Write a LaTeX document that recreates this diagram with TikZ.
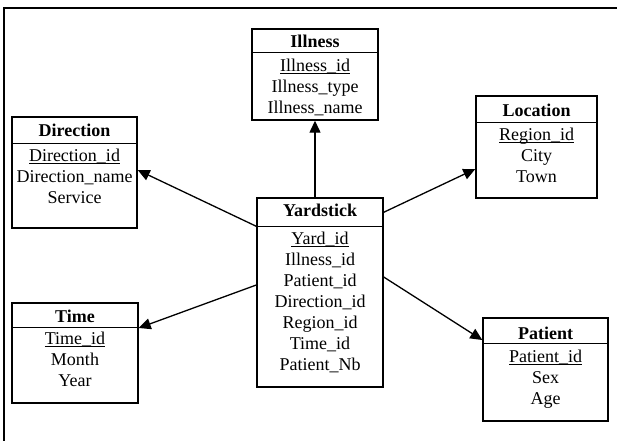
\documentclass[tikz,border=0pt]{standalone}
\usepackage{fontspec}
\setmainfont{Liberation Serif}
\usetikzlibrary{arrows.meta}
\newcommand{\keyul}[1]{\setbox0\hbox{#1}\rlap{\rule[-2.6pt]{\wd0}{0.9pt}}\box0}
\begin{document}
\begin{tikzpicture}[x=1pt,y=-1pt,
  tbl/.style={draw, line width=1.4pt, rectangle, inner sep=0pt},
  divider/.style={line width=1.4pt},
  ttl/.style={font=\fontsize{18}{21}\selectfont\bfseries, inner sep=0pt},
  attrs/.style={font=\fontsize{18}{21}\selectfont, align=center, anchor=north, inner sep=0pt},
  rel/.style={line width=1.3pt, -{Triangle[length=12pt,width=11pt]}}]
\useasboundingbox (0,0) rectangle (618,441);
\coordinate (fb) at (4,441);
\coordinate (fc) at (4,8);
\coordinate (fr) at (617,8);
\draw[line width=1.3pt] (fb) -- (fc) -- (fr);

% Illness
\node[tbl, minimum width=126pt, minimum height=91pt] (ill) at (315,74.5) {};
\draw[divider] ([yshift=-24pt]ill.north west) -- ([yshift=-24pt]ill.north east);
\node[ttl] (illt) at (315,41) {Illness};
\node[attrs] (illa) at (315,59) {\keyul{Illness\_id}\\Illness\_type\\Illness\_name};

% Direction
\node[tbl, minimum width=125pt, minimum height=111pt] (dir) at (74.5,172.5) {};
\draw[divider] ([yshift=-27pt]dir.north west) -- ([yshift=-27pt]dir.north east);
\node[ttl] (dirt) at (74.5,130) {Direction};
\node[attrs] (dira) at (74.5,149) {\keyul{Direction\_id}\\Direction\_name\\Service};

% Location
\node[tbl, minimum width=121pt, minimum height=102pt] (loc) at (536.5,147) {};
\draw[divider] ([yshift=-27pt]loc.north west) -- ([yshift=-27pt]loc.north east);
\node[ttl] (loct) at (536.5,110) {Location};
\node[attrs] (loca) at (536.5,128) {\fontsize{18}{20}\selectfont\keyul{Region\_id}\\City\\Town};

% Yardstick
\node[tbl, minimum width=126pt, minimum height=189pt] (yard) at (320,292.5) {};
\coordinate (ydw) at ([yshift=-29pt]yard.north west);
\coordinate (yde) at ([yshift=-29pt]yard.north east);
\draw[divider] (ydw) -- (yde);
\node[ttl] (yardt) at (320,210) {Yardstick};
\node[attrs] (yarda) at (320,232) {\keyul{Yard\_id}\\Illness\_id\\Patient\_id\\Direction\_id\\Region\_id\\Time\_id\\Patient\_Nb};

% Time
\node[tbl, minimum width=126pt, minimum height=100pt] (tim) at (75,353) {};
\draw[divider] ([yshift=-25pt]tim.north west) -- ([yshift=-25pt]tim.north east);
\node[ttl] (timt) at (75,316) {Time};
\node[attrs] (tima) at (75,332) {\keyul{Time\_id}\\Month\\Year};

% Patient
\node[tbl, minimum width=125pt, minimum height=103pt] (pat) at (545.5,369.5) {};
\draw[divider] ([yshift=-26pt]pat.north west) -- ([yshift=-26pt]pat.north east);
\node[ttl] (patt) at (545.5,333) {Patient};
\node[attrs] (pata) at (545.5,350) {\keyul{Patient\_id}\\Sex\\Age};

% Relations
\draw[rel] (yard.north -| ill.south) -- (ill.south);
\draw[rel] (ydw) -- ([yshift=2.5pt]dir.east);
\draw[rel] ([yshift=-15pt]yard.north east) -- ([yshift=-22pt]loc.west);
\draw[rel] ([yshift=7.5pt]yard.west) -- ([yshift=25pt]tim.east);
\draw[rel] ([yshift=15.5pt]yard.east) -- ([yshift=29.5pt]pat.west);
\end{tikzpicture}
\end{document}
